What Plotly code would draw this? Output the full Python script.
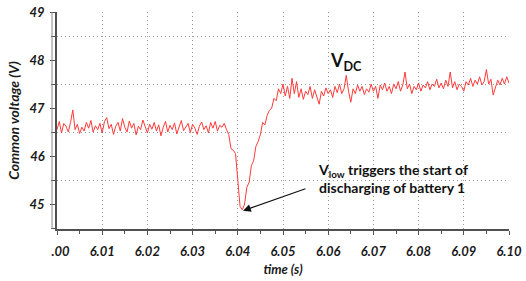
import plotly.graph_objects as go

# ---- data ----
t_start = 6.000
t_step = 0.0005
vdc = [
    46.55, 46.72, 46.48, 46.68, 46.62, 46.50, 46.70, 46.96, 46.55, 46.66,
    46.47, 46.60, 46.52, 46.70, 46.58, 46.74, 46.50, 46.63, 46.55, 46.68,
    46.48, 46.72, 46.80, 46.57, 46.66, 46.45, 46.62, 46.70, 46.52, 46.78,
    46.60, 46.50, 46.73, 46.58, 46.68, 46.44, 46.62, 46.55, 46.75, 46.60,
    46.48, 46.66, 46.56, 46.70, 46.52, 46.65, 46.42, 46.60, 46.72, 46.50,
    46.64, 46.55, 46.69, 46.46, 46.62, 46.74, 46.53, 46.60, 46.68, 46.49,
    46.66, 46.58, 46.45, 46.62, 46.71, 46.55, 46.63, 46.48, 46.70, 46.58,
    46.72, 46.52, 46.64, 46.60, 46.68, 46.55, 46.45, 46.15, 46.12, 46.05,
    45.40, 44.95, 44.88, 45.00, 45.35, 45.45, 45.80, 45.90, 46.20, 46.30,
    46.45, 46.70, 46.65, 46.85, 46.95, 47.00, 47.20, 47.15, 47.40, 47.30,
    47.50, 47.25, 47.45, 47.20, 47.62, 47.30, 47.55, 47.22, 47.40, 47.18,
    47.35, 47.28, 47.45, 47.20, 47.38, 47.25, 47.08, 47.35, 47.25, 47.42,
    47.30, 47.38, 47.22, 47.45, 47.32, 47.50, 47.30, 47.40, 47.68, 47.35,
    47.12, 47.40, 47.30, 47.48, 47.35, 47.45, 47.28, 47.40, 47.33, 47.50,
    47.35, 47.45, 47.20, 47.48, 47.38, 47.52, 47.35, 47.45, 47.30, 47.50,
    47.40, 47.55, 47.35, 47.48, 47.75, 47.40, 47.50, 47.30, 47.45, 47.38,
    47.52, 47.35, 47.48, 47.42, 47.55, 47.38, 47.50, 47.45, 47.60, 47.42,
    47.52, 47.40, 47.58, 47.45, 47.75, 47.42, 47.55, 47.38, 47.50, 47.45,
    47.35, 47.55, 47.48, 47.62, 47.45, 47.58, 47.50, 47.65, 47.48, 47.55,
    47.80, 47.50, 47.60, 47.27, 47.45, 47.58, 47.48, 47.62, 47.50, 47.65,
    47.52,
]
time = [round(t_start + i * t_step, 4) for i in range(len(vdc))]

x_tickvals = [6.00, 6.01, 6.02, 6.03, 6.04, 6.05, 6.06, 6.07, 6.08, 6.09, 6.10]
x_ticktext = ["<span style='color:rgba(0,0,0,0)'>6</span>.00", "6.01", "6.02", "6.03",
              "6.04", "6.05", "6.06", "6.07", "6.08", "6.09", "6.10"]
y_tickvals = [45, 46, 47, 48, 49]
y_ticktext = ["45", "46", "47", "48", "49"]
y_gridvals = [44.5, 45.5, 46.5, 47.5, 48.5]

# annotation anchors (data coordinates)
arrow_tip = (6.04115, 44.86)
arrow_tail = (6.0553, 45.33)
note_pos = (6.0573, 45.53)
vdc_label_pos = (6.0600, 47.97)

FONT = "Lato"
tickfont = dict(family=FONT, size=13, color="#1a1a1a", weight="bold", style="italic")
xtitlefont = dict(family=FONT, size=13, color="#1a1a1a", weight="bold", style="italic")
ytitlefont = dict(family=FONT, size=14, color="#1a1a1a", weight="bold", style="italic")
GRID = dict(gridcolor="#9a9a9a", griddash="1px,3px", gridwidth=1)

fig = go.Figure()
fig.add_trace(go.Scatter(
    x=time, y=vdc, mode="lines",
    line=dict(color="#ff3b3b", width=1),
    hoverinfo="skip", showlegend=False,
))

fig.update_layout(
    width=526, height=281,
    margin=dict(l=57, r=17, t=12, b=52),
    paper_bgcolor="white", plot_bgcolor="white",
    showlegend=False,
)

fig.update_xaxes(
    range=[6.00, 6.10],
    tickvals=x_tickvals, ticktext=x_ticktext,
    tickfont=tickfont,
    showgrid=True, **GRID,
    showline=True, linecolor="#505050", linewidth=1.5,
    ticks="outside", ticklen=4, tickcolor="#505050",
    ticklabelstandoff=6,
    minor=dict(dtick=0.005, tick0=6.0, ticks="outside", ticklen=3, tickcolor="#505050", showgrid=False),
    zeroline=False, automargin=False,
    title=dict(text="time (s)", font=xtitlefont, standoff=7),
)
fig.update_yaxes(
    range=[44.48, 49.0],
    tickvals=y_tickvals, ticktext=y_ticktext,
    tickfont=tickfont,
    showgrid=False,
    showline=True, linecolor="#505050", linewidth=1.5,
    ticks="outside", ticklen=5, tickcolor="#505050",
    ticklabelstandoff=3,
    minor=dict(tickvals=y_gridvals, ticks="outside", ticklen=4,
               tickcolor="#505050", showgrid=True, **GRID),
    zeroline=False, automargin=False,
    title=dict(text="Common voltage (V)", font=ytitlefont, standoff=7),
)

# thin outer frame line just left of the y axis
fig.add_shape(type="line", xref="paper", yref="paper", x0=-0.011, x1=-0.011, y0=0, y1=1,
              line=dict(color="#8a8a8a", width=1))

fig.add_annotation(
    x=vdc_label_pos[0], y=vdc_label_pos[1], xanchor="left", yanchor="middle",
    text="<b>V<sub>DC</sub></b>", showarrow=False,
    font=dict(family=FONT, size=18, color="#111111"),
)
fig.add_annotation(
    x=arrow_tip[0], y=arrow_tip[1], ax=arrow_tail[0], ay=arrow_tail[1],
    xref="x", yref="y", axref="x", ayref="y",
    text="", showarrow=True, arrowhead=2, arrowsize=1.3, arrowwidth=1.2,
    arrowcolor="#111111", standoff=0,
)
fig.add_annotation(
    x=note_pos[0], y=note_pos[1], xanchor="left", yanchor="middle", align="left",
    text="<b>V<sub>low</sub> triggers the start of<br>discharging of battery 1</b>",
    showarrow=False,
    font=dict(family=FONT, size=14, color="#111111"),
)

fig.write_html("out.html", config={"displayModeBar": False},
               post_script="document.body.style.margin='0px';")
